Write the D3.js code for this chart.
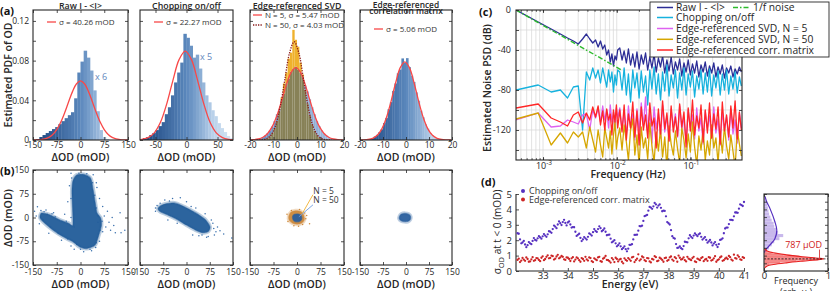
<!DOCTYPE html>
<html>
<head>
<meta charset="utf-8">
<title>Noise suppression figure</title>
<script src="https://d3js.org/d3.v7.min.js"></script>
<style>
 body { margin: 0; background: #fff; }
 svg { display: block; font-family: "Open Sans", "Noto Sans", sans-serif; }
 .lab { font-weight: 600; fill: #262626; }
 .ttl { font-weight: 600; fill: #262626; font-size: 8.8px; }
 .panel { font-weight: 700; font-size: 11px; fill: #111; }
 .leg { fill: #333; }
</style>
</head>
<body>
<svg width="830" height="291"></svg>
<script>
// ================= data =================
// (a) histograms: bin centres and PDF heights
const rawCenters = [-145,-135,-125,-115,-105,-95,-85,-75,-65,-55,-45,-35,-25,-15,-5,5,15,25,35,45,55,65,75,85,95,105,115,125,135,145];
const rawHist = [0,0.001,0.003,0.005,0.007,0.009,0.011,0.013,0.016,0.019,0.022,0.025,0.028,0.042,0.068,0.079,0.09,0.083,0.07,0.05,0.029,0.01,0.003,0.001,0,0,0,0,0,0];
const chopCenters = [-72.5,-67.5,-62.5,-57.5,-52.5,-47.5,-42.5,-37.5,-32.5,-27.5,-22.5,-17.5,-12.5,-7.5,-2.5,2.5,7.5,12.5,17.5,22.5,27.5,32.5,37.5,42.5,47.5,52.5,57.5,62.5,67.5,72.5];
const chopHist = [0.001,0.002,0.003,0.005,0.007,0.010,0.014,0.018,0.026,0.033,0.045,0.058,0.068,0.078,0.107,0.103,0.095,0.083,0.086,0.072,0.058,0.045,0.038,0.030,0.024,0.017,0.012,0.008,0.004,0.002];
const fineCenters = [-19.5,-18.5,-17.5,-16.5,-15.5,-14.5,-13.5,-12.5,-11.5,-10.5,-9.5,-8.5,-7.5,-6.5,-5.5,-4.5,-3.5,-2.5,-1.5,-0.5,0.5,1.5,2.5,3.5,4.5,5.5,6.5,7.5,8.5,9.5,10.5,11.5,12.5,13.5,14.5,15.5,16.5,17.5,18.5,19.5];
const svd5Hist = [0.0002,0.0003,0.0006,0.001,0.0018,0.0028,0.0045,0.0068,0.0095,0.0135,0.019,0.026,0.031,0.041,0.047,0.057,0.062,0.069,0.072,0.074,0.071,0.068,0.064,0.055,0.049,0.041,0.033,0.026,0.019,0.014,0.0098,0.0068,0.0044,0.0029,0.0018,0.0011,0.0006,0.0003,0.0002,0.0001];
const svd50Hist = [0,0,0,0.0001,0.0002,0.0004,0.0009,0.0019,0.0038,0.0069,0.012,0.019,0.029,0.043,0.057,0.068,0.082,0.088,0.111,0.101,0.094,0.078,0.066,0.051,0.037,0.025,0.016,0.0096,0.0055,0.0029,0.0015,0.0007,0.0003,0.0001,0,0,0,0,0,0];
const corrHist = [0.0001,0.0001,0.0003,0.0005,0.001,0.0019,0.0034,0.0052,0.0079,0.0108,0.017,0.0221,0.031,0.0382,0.0495,0.057,0.0672,0.071,0.0822,0.078,0.0825,0.0735,0.0648,0.0585,0.048,0.0396,0.0296,0.023,0.0158,0.0115,0.0071,0.0049,0.0027,0.0017,0.0009,0.0005,0.0002,0.0001,0.0001,0];

// (a) Gaussian fits
const rawFitX = [-150,-137.5,-125,-112.5,-100,-87.5,-75,-62.5,-50,-37.5,-25,-12.5,0,12.5,25,37.5,50,62.5,75,87.5,100,112.5,125,137.5,150];
const rawFitY = [0.00006,0.00017,0.00048,0.0012,0.0027,0.0056,0.0105,0.0178,0.0275,0.0385,0.049,0.0567,0.0595,0.0567,0.049,0.0385,0.0275,0.0178,0.0105,0.0056,0.0027,0.0012,0.00048,0.00017,0.00006];
const chopFitX = [-78,-72,-62,-52,-42,-32,-22,-12,-2,8,18,28,38,48,58,68,78];
const chopFitY = [0.0002,0.00065,0.0024,0.0072,0.0178,0.0362,0.0599,0.081,0.0896,0.081,0.0599,0.0362,0.0178,0.0072,0.0024,0.00065,0.0002];
const svd5FitX = [-20.5,-18.5,-16.5,-14.5,-12.5,-10.5,-8.5,-6.5,-4.5,-2.5,-0.5,1.5,3.5,5.5,7.5,9.5,11.5,13.5,15.5,17.5,19.5];
const svd5FitY = [0.00009,0.00032,0.00101,0.00276,0.0066,0.0137,0.025,0.04,0.0558,0.0682,0.0729,0.0682,0.0558,0.04,0.025,0.0137,0.0066,0.00276,0.00101,0.00032,0.00009];
const svd50FitX = [-17.2,-15.2,-13.2,-11.2,-9.2,-7.2,-5.2,-3.2,-1.2,0.8,2.8,4.8,6.8,8.8,10.8,12.8,14.8];
const svd50FitY = [0.00004,0.00024,0.00118,0.00455,0.0138,0.0327,0.0605,0.0875,0.099,0.0875,0.0605,0.0327,0.0138,0.00455,0.00118,0.00024,0.00004];
const corrFitX = [-20.5,-18.5,-16.5,-14.5,-12.5,-10.5,-8.5,-6.5,-4.5,-2.5,-0.5,1.5,3.5,5.5,7.5,9.5,11.5,13.5,15.5,17.5,19.5];
const corrFitY = [0.00003,0.00014,0.00053,0.00171,0.00473,0.0112,0.0226,0.039,0.0577,0.0729,0.0788,0.0729,0.0577,0.039,0.0226,0.0112,0.00473,0.00171,0.00053,0.00014,0.00003];

// (b) scatter clouds: dense outline + loose points [x, y] in mOD
const rawCloud = [[-123,14],[-96,8],[-65,-8],[-38,-18],[-24,-24],[-25,30],[-27,80],[-24,115],[-12,134],[10,136],[32,124],[40,87],[46,50],[52,15],[64,-2],[66,-25],[58,-55],[46,-87],[20,-98],[-2,-93],[-23,-77],[-54,-61],[-86,-40],[-117,-14],[-128,0]];
const rawLoose = [[-136,34],[-109,24],[-130,-20],[-140,5],[-100,-50],[-60,-72],[-30,-90],[10,-108],[35,-105],[60,-75],[70,-45],[80,-30],[95,-40],[110,-48],[128,-48],[125,15],[85,20],[70,35],[60,60],[50,110],[40,135],[-30,140],[-35,100],[-40,50],[-50,10],[-85,15],[75,5],[100,0],[55,-15],[-20,-100],[-115,18],[-90,12],[48,-95],[52,95],
  [-125,22],[-118,-8],[-105,10],[-95,-30],[-80,2],[-70,-50],[-45,-12],[-40,-68],[-12,-85],[0,-100],[30,-100],[50,-80],[62,-40],[68,-12],[55,5],[50,30],[45,70],[38,110],[20,138],[-5,140],[-28,125],[-30,60],[-30,0],[-20,-30],[90,-15],[105,-25],[140,-40],[-145,20]];
const chopCloud = [[-92,28],[-82,38],[-62,44],[-40,46],[-16,38],[10,25],[40,8],[62,-8],[76,-30],[70,-44],[52,-48],[30,-40],[0,-24],[-30,-6],[-60,8],[-84,18]];
const chopLoose = [[-20,62],[-45,60],[-95,38],[-70,55],[60,12],[85,-18],[95,-45],[108,-42],[146,-65],[70,-60],[40,-58],[80,-8],[-60,-8],[20,-55],[100,-30],[120,-52],[-100,20],[0,50],[30,30],[90,-55],[65,-62],[-30,-18],[-85,45],[-55,52],[15,35],[50,-55],[88,-35],[-100,30]];
const svd5Cloud = [[-26,4],[-20,16],[-5,21],[12,19],[21,8],[23,-8],[14,-18],[0,-21],[-15,-17],[-25,-8]];
const svd5Loose = [[-32,10],[28,-4],[-10,-26],[18,-22],[31,6],[-29,-13],[8,25],[-18,22],[25,14],[5,-28],[40,-20]];
const svd50Cloud = [[-14,4],[-8,10],[5,11],[14,5],[15,-6],[7,-13],[-6,-13],[-13,-6]];
const corrCloud = [[-21,4],[-15,11],[-3,13],[9,10],[15,3],[14,-6],[7,-12],[-5,-13],[-16,-10],[-22,-4]];

// (c) noise PSD (dB) at each frequency (Hz)
const psdFreq = [0.00043,0.00086,0.00129,0.00172,0.00215,0.00258,0.00301,0.00344,0.00387,0.0043,0.00473,0.00516,0.00559,0.00602,0.00645,0.00688,0.00731,0.00774,0.00817,0.0086,0.00903,0.00946,0.00989,0.0103,
  0.011,0.0118,0.0126,0.0135,0.0144,0.0154,0.0165,0.0176,0.0188,0.0201,0.0215,0.023,0.0246,0.0263,0.0281,0.03,0.0321,0.0343,0.0367,0.0392,0.0419,0.0448,0.0479,0.0512,0.0547,0.0585,0.0625,0.0668,0.0714,0.0763,0.0816,0.0872,0.0932,0.0996,0.1065,0.1138,0.1216,0.13,0.139,0.1485,0.1587,0.1697,0.1813,0.1938,0.2072,0.2214,0.2367,0.253,0.2704,0.289,0.3089,0.3302,0.3529,0.3772,0.4032,0.431,0.4607,0.49];
const psdRaw = [0,-12,-19,-24,-28,-31,-34,-29,-24,-29,-33,-30,-37,-31,-39,-35,-45,-40,-52,-44,-56,-46,-50,-40,
  -38,-50,-41,-53,-39,-55,-44,-57,-42,-59,-45,-54,-43,-60,-47,-58,-44,-62,-48,-57,-46,-63,-50,-61,-47,-64,-52,-60,-49,-66,-53,-62,-50,-65,-54,-63,-51,-67,-55,-62,-52,-66,-56,-63,-53,-67,-57,-64,-55,-68,-58,-63,-56,-67,-59,-64,-57,-62];
const psdChop = [-80,-75,-82,-80,-88,-77,-76,-120,-62,-70,-58,-68,-60,-73,-58,-68,-77,-60,-72,-62,-82,-65,-75,-60,
  -62,-80,-58,-85,-64,-92,-60,-78,-63,-88,-61,-82,-66,-95,-60,-79,-57,-84,-64,-90,-62,-81,-55,-86,-65,-78,-60,-88,-63,-80,-58,-85,-64,-77,-61,-87,-66,-79,-60,-84,-63,-82,-59,-86,-65,-78,-61,-85,-64,-80,-60,-84,-66,-79,-62,-83,-67,-76];
const psdSvd5 = [-110,-103,-117,-116,-110,-112,-114,-105,-104,-120,-100,-108,-98,-112,-96,-110,-100,-118,-95,-112,-102,-120,-98,-108,
  -98,-120,-102,-126,-96,-118,-104,-130,-99,-121,-93,-116,-87,-124,-101,-133,-97,-119,-103,-128,-95,-122,-106,-131,-99,-117,-104,-127,-96,-120,-107,-132,-100,-118,-105,-129,-98,-121,-108,-134,-101,-119,-106,-128,-97,-123,-109,-135,-102,-120,-107,-130,-99,-124,-110,-133,-103,-118];
const psdSvd50 = [-109,-103,-135,-123,-133,-122,-127,-122,-138,-117,-130,-142,-120,-135,-147,-118,-128,-138,-121,-144,-125,-112,-139,-128,
  -118,-140,-115,-132,-150,-120,-109,-145,-125,-155,-117,-138,-128,-149,-113,-136,-152,-122,-141,-119,-147,-127,-158,-116,-134,-145,-121,-139,-153,-118,-130,-148,-124,-142,-112,-137,-155,-126,-140,-119,-150,-131,-145,-115,-138,-128,-153,-122,-143,-117,-136,-149,-125,-141,-158,-120,-134,-146];
const psdCorr = [-98,-94,-108,-112,-116,-105,-102,-113,-103,-110,-97,-107,-96,-115,-101,-120,-99,-110,-104,-125,-100,-112,-95,-118,
  -100,-122,-95,-130,-104,-118,-92,-127,-101,-135,-97,-120,-105,-128,-93,-116,-108,-138,-99,-124,-91,-119,-103,-131,-96,-122,-107,-126,-94,-117,-102,-137,-98,-121,-90,-125,-106,-118,-95,-132,-100,-123,-93,-128,-104,-119,-97,-134,-92,-121,-105,-127,-96,-118,-91,-129,-102,-120];
const oneOverFFreq = [0.00043, 0.0116];
const oneOverFdB = [0, -60];

// (d) noise floor vs photon energy
const energy = [32.0,32.1,32.2,32.3,32.4,32.5,32.6,32.7,32.8,32.9,33.0,33.1,33.2,33.3,33.4,33.5,33.6,33.7,33.8,33.9,34.0,34.1,34.2,34.3,34.4,34.5,34.6,34.7,34.8,34.9,35.0,35.1,35.2,35.3,35.4,35.5,35.6,35.7,35.8,35.9,36.0,36.1,36.2,36.3,36.4,36.5,36.6,36.7,36.8,36.9,37.0,37.1,37.2,37.3,37.4,37.5,37.6,37.7,37.8,37.9,38.0,38.1,38.2,38.3,38.4,38.5,38.6,38.7,38.8,38.9,39.0,39.1,39.2,39.3,39.4,39.5,39.6,39.7,39.8,39.9,40.0,40.1,40.2,40.3,40.4,40.5,40.6,40.7,40.8,40.9,41.0];
const sigmaChop = [2.45,2.05,1.85,1.72,1.68,1.80,1.95,2.02,2.12,2.18,2.25,2.30,2.38,2.55,2.72,2.88,3.02,3.10,3.18,3.12,3.15,3.02,2.85,2.55,2.35,2.15,2.05,2.12,2.22,2.38,2.52,2.60,2.72,2.78,2.65,2.55,2.35,2.10,1.92,1.80,1.68,1.60,1.50,1.42,1.45,1.70,2.05,2.35,2.62,2.90,3.25,3.60,3.92,4.12,4.20,4.32,4.25,4.10,3.92,3.55,3.10,2.65,2.15,1.75,1.52,1.48,1.62,1.88,2.12,2.22,2.30,2.35,2.38,2.22,2.12,2.02,1.92,1.85,1.78,1.70,1.75,2.05,2.45,2.82,3.05,3.32,3.55,3.80,4.05,4.28,4.48];
const sigmaCorr = [0.72,0.58,0.85,0.66,0.78,0.62,0.90,0.70,0.82,0.64,0.95,0.78,1.02,0.85,0.96,0.80,1.05,0.88,0.92,0.72,0.86,0.65,0.90,0.74,0.82,0.60,0.78,0.92,0.68,0.84,0.58,0.76,0.88,0.64,0.80,0.98,0.70,0.55,0.74,0.86,0.62,0.78,0.50,0.72,0.84,0.66,0.92,0.70,1.08,0.76,0.88,0.64,0.82,0.56,0.74,0.90,0.68,0.80,0.60,0.86,0.72,0.94,0.66,0.82,1.00,0.74,0.88,0.62,0.80,0.70,0.92,0.58,0.76,0.84,0.64,0.78,0.90,0.68,0.82,0.60,0.76,0.94,0.70,0.86,0.98,0.74,1.06,0.80,0.92,0.72,0.85];
// interleaved points half-way between the ones above
const energyMid = [32.05,32.15,32.25,32.35,32.45,32.55,32.65,32.75,32.85,32.95,33.05,33.15,33.25,33.35,33.45,33.55,33.65,33.75,33.85,33.95,34.05,34.15,34.25,34.35,34.45,34.55,34.65,34.75,34.85,34.95,35.05,35.15,35.25,35.35,35.45,35.55,35.65,35.75,35.85,35.95,36.05,36.15,36.25,36.35,36.45,36.55,36.65,36.75,36.85,36.95,37.05,37.15,37.25,37.35,37.45,37.55,37.65,37.75,37.85,37.95,38.05,38.15,38.25,38.35,38.45,38.55,38.65,38.75,38.85,38.95,39.05,39.15,39.25,39.35,39.45,39.55,39.65,39.75,39.85,39.95,40.05,40.15,40.25,40.35,40.45,40.55,40.65,40.75,40.85,40.95];
const sigmaChopMid = [2.42,1.80,1.95,1.55,1.88,1.74,2.14,1.98,2.26,2.10,2.40,2.22,2.58,2.48,2.95,2.78,3.22,2.98,3.32,2.96,3.22,2.82,2.84,2.28,2.42,1.94,2.20,2.04,2.44,2.30,2.72,2.54,2.90,2.58,2.76,2.32,2.36,1.86,2.00,1.60,1.80,1.42,1.60,1.28,1.70,1.74,2.34,2.36,2.92,2.94,3.56,3.64,4.16,4.04,4.42,4.12,4.32,3.88,3.90,3.18,3.02,2.26,2.10,1.50,1.60,1.42,1.90,1.86,2.32,2.14,2.44,2.26,2.44,2.04,2.20,1.84,2.02,1.66,1.88,1.56,2.02,2.12,2.76,2.82,3.32,3.30,3.80,3.78,4.32,4.22];
const sigmaCorrMid = [0.80,0.68,0.74,0.88,0.60,0.76,0.66,0.84,0.72,0.86,0.70,0.92,0.82,1.00,0.74,0.94,0.82,0.98,0.76,0.88,0.78,0.82,0.62,0.88,0.70,0.84,0.66,0.76,0.88,0.64,0.82,0.70,0.92,0.60,0.86,0.72,0.64,0.84,0.58,0.78,0.74,0.60,0.82,0.66,0.76,0.88,0.58,0.80,0.68,0.94,0.70,0.84,0.62,0.78,0.96,0.64,0.86,0.72,0.84,0.66,0.88,0.74,0.90,0.60,0.86,0.78,0.70,0.92,0.76,0.84,0.62,0.80,0.70,0.90,0.74,0.66,0.86,0.72,0.96,0.70,0.88,0.66,0.80,0.78,0.90,0.68,0.84,1.02,0.76,0.90];
// side histograms of those sigmas
const chopBinC = [1.3,1.5,1.7,1.9,2.1,2.3,2.5,2.7,2.9,3.1,3.3,3.5,3.7,3.9,4.1,4.3,4.5,4.7];
const chopBinF = [0.03,0.08,0.12,0.16,0.24,0.30,0.22,0.19,0.16,0.15,0.12,0.10,0.08,0.07,0.06,0.05,0.03,0.02];
const corrBinC = [0.35,0.45,0.55,0.65,0.75,0.85,0.95,1.05,1.15,1.25,1.35];
const corrBinF = [0.02,0.08,0.25,0.5,0.85,0.8,0.55,0.3,0.12,0.05,0.02];
const chopFitF = [0.005,0.016,0.042,0.094,0.17,0.2,0.17,0.094,0.042,0.016];
const chopFitS = [1.2,1.3,1.45,1.7,2.1,2.65,3.2,4.05,4.5,4.85];
const corrFitF = [0.01,0.05,0.15,0.35,0.6,0.85,0.93,0.85,0.6,0.35,0.15,0.05,0.01];
const corrFitS = [1.45,1.3,1.18,1.05,0.93,0.83,0.787,0.74,0.64,0.53,0.42,0.33,0.2];
const corrMean = 0.787;

// ================= drawing =================
const svg = d3.select("svg");
const ink = "#262626";
const red = "#f84848";

function styleAxis(s, fs) {
  s.select(".domain").remove();
  s.attr("font-family", null).attr("font-size", null);
  s.selectAll(".tick line").attr("stroke", ink).attr("stroke-width", 0.8);
  s.selectAll(".tick text").attr("fill", ink).style("font-size", fs + "px");
}
const blank = () => "";

// boxed axes with inward ticks on all four sides
function boxAxes(g, x, y, o) {
  const [yb, yt] = y.range();
  const [xl, xr] = x.range();
  const xf = o.xLab ? (o.xFmt || (d => String(d))) : blank;
  const yf = o.yFmt || blank;
  g.append("g").attr("transform", `translate(0,${yb})`)
    .call(d3.axisBottom(x).tickValues(o.xt).tickSize(-3).tickSizeOuter(0).tickPadding(o.xPad || 2).tickFormat(xf))
    .call(s => styleAxis(s, o.fs));
  g.append("g").attr("transform", `translate(0,${yt})`)
    .call(d3.axisTop(x).tickValues(o.xt).tickSize(-3).tickSizeOuter(0).tickFormat(blank))
    .call(s => styleAxis(s, o.fs));
  g.append("g").attr("transform", `translate(${xl},0)`)
    .call(d3.axisLeft(y).tickValues(o.yt).tickSize(-3).tickSizeOuter(0).tickPadding(o.yPad || 4).tickFormat(yf))
    .call(s => styleAxis(s, o.fs));
  g.append("g").attr("transform", `translate(${xr},0)`)
    .call(d3.axisRight(y).tickValues(o.yt).tickSize(-3).tickSizeOuter(0).tickFormat(blank))
    .call(s => styleAxis(s, o.fs));
  g.append("rect").attr("x", xl).attr("y", yt).attr("width", xr - xl).attr("height", yb - yt)
    .attr("fill", "none").attr("stroke", ink).attr("stroke-width", 1.1);
}

function clipFor(id, x, y) {
  svg.append("clipPath").attr("id", id).append("rect")
    .attr("x", x.range()[0]).attr("y", y.range()[1])
    .attr("width", x.range()[1] - x.range()[0]).attr("height", y.range()[0] - y.range()[1]);
  return `url(#${id})`;
}

// ---------- (a) ----------
const cols = [[33, 128], [140, 233], [250, 344], [360, 452]];
const yA = d3.scaleLinear().domain([0, 0.131]).range([140, 10]);
const blueRamp = d3.scaleLinear().domain([0, 0.5, 0.78, 1])
  .range(["#163f79", "#5a87bc", "#b9d1ea", "#d9e8f5"]).interpolate(d3.interpolateRgb);
const paleRamp = d3.scaleLinear().domain([0, 1]).range(["#5f84bb", "#a8c2e2"]);

const histDefs = [
  {dom: [-150, 150], xt: [-150, -75, 0, 75, 150], c: rawCenters, v: rawHist, w: 10, fx: rawFitX, fy: rawFitY,
   title: ["Raw I - <I>"], leg: "σ = 40.26 mOD"},
  {dom: [-75, 75], xt: [-50, 0, 50], c: chopCenters, v: chopHist, w: 5, fx: chopFitX, fy: chopFitY,
   title: ["Chopping on/off"], leg: "σ = 22.27 mOD"},
  {dom: [-20, 20], xt: [-20, -10, 0, 10, 20], c: fineCenters, v: svd5Hist, w: 1, fx: svd5FitX, fy: svd5FitY,
   title: ["Edge-referenced SVD"]},
  {dom: [-20, 20], xt: [-20, -10, 0, 10, 20], c: fineCenters, v: corrHist, w: 1, fx: corrFitX, fy: corrFitY,
   title: ["Edge-referenced", "correlation matrix"], leg: "σ = 5.06 mOD"}
];
const yTicksA = [0, 0.02, 0.04, 0.06, 0.08, 0.1, 0.12];

histDefs.forEach((h, i) => {
  const g = svg.append("g");
  const x = d3.scaleLinear().domain(h.dom).range(cols[i]);
  const clip = clipFor("clipA" + i, x, yA);
  const bars = g.append("g").attr("clip-path", clip);
  const t = c => (c - h.dom[0]) / (h.dom[1] - h.dom[0]);
  if (i === 2) {
    h.c.forEach((c, k) => {
      const b = svd5Hist[k], o = svd50Hist[k], lo = Math.min(b, o);
      const x0 = x(c - h.w / 2), wd = x(c + h.w / 2) - x0;
      bars.append("rect").attr("x", x0).attr("width", wd).attr("y", yA(lo)).attr("height", yA(0) - yA(lo)).attr("fill", "#878157");
      if (b > o) bars.append("rect").attr("x", x0).attr("width", wd).attr("y", yA(b)).attr("height", yA(o) - yA(b)).attr("fill", paleRamp(t(c)));
      else if (o > b) bars.append("rect").attr("x", x0).attr("width", wd).attr("y", yA(o)).attr("height", yA(b) - yA(o)).attr("fill", "#efb12c");
    });
  } else {
    bars.selectAll("rect").data(h.c).join("rect")
      .attr("x", c => x(c - h.w / 2)).attr("width", c => x(c + h.w / 2) - x(c - h.w / 2) + 0.3)
      .attr("y", (c, k) => yA(h.v[k])).attr("height", (c, k) => yA(0) - yA(h.v[k]))
      .attr("fill", c => blueRamp(t(c)));
  }
  const line = d3.line().x(d => x(d[0])).y(d => yA(d[1])).curve(d3.curveCatmullRom);
  bars.append("path").datum(d3.zip(h.fx, h.fy)).attr("d", line)
    .attr("fill", "none").attr("stroke", red).attr("stroke-width", 1.3);
  if (i === 2) {
    bars.append("path").datum(d3.zip(svd50FitX, svd50FitY)).attr("d", line)
      .attr("fill", "none").attr("stroke", "#8b1a1a").attr("stroke-width", 1.3).attr("stroke-dasharray", "1.3,1.2");
  }
  boxAxes(g, x, yA, {xt: h.xt, yt: yTicksA, xLab: true, fs: 8.5, xPad: 2,
    yFmt: i === 0 ? (d => [0, 0.04, 0.08, 0.12].includes(d) ? (d === 0 ? "0" : d.toFixed(2)) : "") : null});

  const cx = (cols[i][0] + cols[i][1]) / 2;
  if (h.title.length === 1) {
    g.append("text").attr("class", "ttl").attr("x", cx).attr("y", 9.2).attr("text-anchor", "middle").text(h.title[0]);
  } else {
    g.append("text").attr("class", "ttl").attr("x", cx).attr("y", 7.6).attr("text-anchor", "middle").style("font-size", "8.4px").text(h.title[0]);
    g.append("text").attr("class", "ttl").attr("x", cx).attr("y", 14.4).attr("text-anchor", "middle").style("font-size", "8.4px").text(h.title[1]);
  }
  g.append("text").attr("class", "lab").attr("x", cx).attr("y", 160.5).attr("text-anchor", "middle")
    .style("font-size", "10.5px").text("ΔOD (mOD)");

  // legends
  const lx = cols[i][0] + 14;
  if (i === 2) {
    g.append("line").attr("x1", lx - 11).attr("x2", lx - 2).attr("y1", 15).attr("y2", 15).attr("stroke", red).attr("stroke-width", 1.3);
    g.append("text").attr("class", "leg").attr("x", lx + 1).attr("y", 17.8).style("font-size", "8px").text("N = 5, σ = 5.47 mOD");
    g.append("line").attr("x1", lx - 11).attr("x2", lx - 2).attr("y1", 25).attr("y2", 25).attr("stroke", "#8b1a1a").attr("stroke-width", 1.3).attr("stroke-dasharray", "1.3,1.2");
    g.append("text").attr("class", "leg").attr("x", lx + 1).attr("y", 27.8).style("font-size", "8px").text("N = 50, σ = 4.03 mOD");
  } else {
    const ly = i === 3 ? 29 : 22;
    g.append("line").attr("x1", lx).attr("x2", lx + 9).attr("y1", ly).attr("y2", ly).attr("stroke", red).attr("stroke-width", 1.3);
    g.append("text").attr("class", "leg").attr("x", lx + 12).attr("y", ly + 2.8).style("font-size", "8px").text(h.leg);
  }
});
svg.append("text").attr("x", 95).attr("y", 80).attr("fill", "#6286bd").style("font-size", "9px").text("x 6");
svg.append("text").attr("x", 200).attr("y", 60).attr("fill", "#6286bd").style("font-size", "9px").text("x 5");
svg.append("text").attr("class", "lab").attr("transform", "translate(12,75) rotate(-90)")
  .attr("text-anchor", "middle").style("font-size", "10.5px").text("Estimated PDF of OD");
svg.append("text").attr("class", "panel").attr("x", 0).attr("y", 15).text("(a)");

// ---------- (b) ----------
const yB = d3.scaleLinear().domain([-150, 150]).range([265, 170]);
const scatDefs = [
  {clouds: [[rawCloud, "#215c99"]], loose: [[rawLoose, "#3a70ad"]]},
  {clouds: [[chopCloud, "#215c99"]], loose: [[chopLoose, "#3a70ad"]]},
  {clouds: [[svd5Cloud, "#cf8a3c"], [svd50Cloud, "#2a5f9e"]], loose: [[svd5Loose, "#cf8a3c"]]},
  {clouds: [[corrCloud, "#2a5f9e"]], loose: []}
];
const bTicks = [-150, -75, 0, 75, 150];
scatDefs.forEach((s, i) => {
  const g = svg.append("g");
  const x = d3.scaleLinear().domain([-150, 150]).range(cols[i]);
  const blob = d3.line().x(d => x(d[0])).y(d => yB(d[1])).curve(d3.curveCardinalClosed.tension(0.3));
  s.clouds.forEach(([pts, col]) => {
    // soft, speckled rim around the dense core
    g.append("path").datum(pts).attr("d", blob).attr("fill", "none")
      .attr("stroke", col).attr("stroke-opacity", 0.3).attr("stroke-width", 4);
  });
  s.loose.forEach(([pts, col]) => {
    g.append("g").selectAll("circle").data(pts).join("circle")
      .attr("cx", d => x(d[0])).attr("cy", d => yB(d[1])).attr("r", 0.75).attr("fill", col);
  });
  s.clouds.forEach(([pts, col]) => {
    g.append("path").datum(pts).attr("d", blob).attr("fill", col).attr("fill-opacity", 0.95)
      .attr("stroke", col).attr("stroke-opacity", 0.5).attr("stroke-width", 1.2);
  });
  boxAxes(g, x, yB, {xt: bTicks, yt: bTicks, xLab: true, fs: 8.5, xPad: 4,
    yFmt: i === 0 ? (d => String(d)) : null});
  g.append("text").attr("class", "lab").attr("x", (cols[i][0] + cols[i][1]) / 2).attr("y", 288)
    .attr("text-anchor", "middle").style("font-size", "10.5px").text("ΔOD (mOD)");
  if (i === 2) {
    g.append("line").attr("x1", x(51)).attr("y1", yB(72)).attr("x2", x(16)).attr("y2", yB(11)).attr("stroke", "#f0b030").attr("stroke-width", 0.9);
    g.append("line").attr("x1", x(51)).attr("y1", yB(40)).attr("x2", x(6)).attr("y2", yB(2)).attr("stroke", "#6f9de0").attr("stroke-width", 0.9);
    g.append("text").attr("class", "leg").attr("x", x(52)).attr("y", yB(74)).style("font-size", "8.5px").text("N = 5");
    g.append("text").attr("class", "leg").attr("x", x(52)).attr("y", yB(45)).style("font-size", "8.5px").text("N = 50");
  }
});
svg.append("text").attr("class", "lab").attr("transform", "translate(12,218) rotate(-90)")
  .attr("text-anchor", "middle").style("font-size", "10.5px").text("ΔOD (mOD)");
svg.append("text").attr("class", "panel").attr("x", 0).attr("y", 175).text("(b)");

// ---------- (c) ----------
const xC = d3.scaleLog().domain([0.00043, 0.5]).range([516, 742]);
const yC = d3.scaleLinear().domain([-150, 0]).range([160, 10]);
const gC = svg.append("g");
const minorF = [];
[-4, -3, -2, -1].forEach(e => d3.range(1, 10).forEach(m => {
  const f = m * Math.pow(10, e);
  if (f > 0.00043 && f < 0.5) minorF.push(f);
}));
gC.append("g").selectAll("line").data(minorF).join("line")
  .attr("x1", d => xC(d)).attr("x2", d => xC(d)).attr("y1", 10).attr("y2", 160)
  .attr("stroke", "#d6d6d6").attr("stroke-width", 0.7);
const dbGrid = [-140, -120, -100, -80, -60, -40, -20];
gC.append("g").selectAll("line").data(dbGrid).join("line")
  .attr("x1", 516).attr("x2", 742).attr("y1", d => yC(d)).attr("y2", d => yC(d))
  .attr("stroke", "#d6d6d6").attr("stroke-width", 0.7);

const clipC = clipFor("clipC", xC, yC);
const psdSeries = [
  {v: psdRaw, col: "#2c2d96"},
  {v: psdChop, col: "#16b2de"},
  {v: psdSvd5, col: "#de62f0"},
  {v: psdSvd50, col: "#d6a600"},
  {v: psdCorr, col: "#ff2626"}
];
const psdLine = d3.line().x(d => xC(d[0])).y(d => yC(d[1]));
const linesC = gC.append("g").attr("clip-path", clipC);
psdSeries.forEach(s => {
  linesC.append("path").datum(d3.zip(psdFreq, s.v)).attr("d", psdLine)
    .attr("fill", "none").attr("stroke", s.col).attr("stroke-width", 1.3).attr("stroke-linejoin", "round");
});
linesC.append("path").datum(d3.zip(oneOverFFreq, oneOverFdB)).attr("d", psdLine)
  .attr("fill", "none").attr("stroke", "#2cba2c").attr("stroke-width", 1.4).attr("stroke-dasharray", "5,2,1.5,2");

boxAxes(gC, xC, yC, {xt: [0.001, 0.01, 0.1], yt: [-140, -120, -100, -80, -60, -40, -20, 0], xLab: false, fs: 9, yPad: 5,
  yFmt: d => d % 40 === 0 ? String(d) : ""});
gC.append("g").attr("transform", "translate(0,160)")
  .call(d3.axisBottom(xC).tickValues(minorF).tickSize(-1.8).tickFormat(blank)).call(s => styleAxis(s, 9));
gC.append("g").attr("transform", "translate(0,10)")
  .call(d3.axisTop(xC).tickValues(minorF).tickSize(-1.8).tickFormat(blank)).call(s => styleAxis(s, 9));
[[0.001, "-3"], [0.01, "-2"], [0.1, "-1"]].forEach(([v, e]) => {
  const t = gC.append("text").attr("x", xC(v) + 1).attr("y", 169).attr("text-anchor", "middle")
    .attr("fill", ink).style("font-size", "9px");
  t.append("tspan").text("10");
  t.append("tspan").attr("dy", -4).style("font-size", "6.5px").text(e);
});
gC.append("text").attr("class", "lab").attr("x", 628).attr("y", 178).attr("text-anchor", "middle")
  .style("font-size", "10.5px").text("Frequency (Hz)");
gC.append("text").attr("class", "lab").attr("transform", "translate(491,88) rotate(-90)")
  .attr("text-anchor", "middle").style("font-size", "10.5px").text("Estimated Noise PSD (dB)");
svg.append("text").attr("class", "panel").attr("x", 479).attr("y", 16).text("(c)");

// legend
const lg = svg.append("g");
lg.append("rect").attr("x", 650).attr("y", 2).attr("width", 179).attr("height", 55)
  .attr("fill", "#fff").attr("stroke", ink).attr("stroke-width", 0.9);
const legRows = [
  ["Raw I - <I>", "#2c2d96", 7.5],
  ["Chopping on/off", "#16b2de", 17.5],
  ["Edge-referenced SVD, N = 5", "#de62f0", 28.5],
  ["Edge-referenced SVD, N = 50", "#d6a600", 39.3],
  ["Edge-referenced corr. matrix", "#ff2626", 50]
];
legRows.forEach(([txt, col, y]) => {
  lg.append("line").attr("x1", 657).attr("x2", 673).attr("y1", y).attr("y2", y).attr("stroke", col).attr("stroke-width", 1.5);
  lg.append("text").attr("x", 676).attr("y", y + 3.6).attr("fill", ink).style("font-size", "10.3px").text(txt);
});
lg.append("line").attr("x1", 733).attr("x2", 750).attr("y1", 7.5).attr("y2", 7.5).attr("stroke", "#2cba2c")
  .attr("stroke-width", 1.5).attr("stroke-dasharray", "5,2,1.5,2");
lg.append("text").attr("x", 753).attr("y", 11.1).attr("fill", ink).style("font-size", "10.3px").text("1/f noise");

// ---------- (d) ----------
const xD = d3.scaleLinear().domain([31.94, 41.04]).range([516, 745]);
const yD = d3.scaleLinear().domain([0, 5]).range([271, 194]);
const gD = svg.append("g");
gD.append("g").attr("transform", "translate(0,271)")
  .call(d3.axisBottom(xD).tickValues([33, 34, 35, 36, 37, 38, 39, 40, 41]).tickSize(-3).tickSizeOuter(0).tickPadding(1).tickFormat(d => String(d)))
  .call(s => styleAxis(s, 9.5));
gD.append("g").attr("transform", "translate(516,0)")
  .call(d3.axisLeft(yD).tickValues([0, 1, 2, 3, 4, 5]).tickSize(-3).tickSizeOuter(0).tickPadding(4).tickFormat(d => String(d)))
  .call(s => styleAxis(s, 9.5));
gD.append("line").attr("x1", 516).attr("x2", 516).attr("y1", 194).attr("y2", 271).attr("stroke", ink).attr("stroke-width", 1.1);
gD.append("line").attr("x1", 516).attr("x2", 745).attr("y1", 271).attr("y2", 271).attr("stroke", ink).attr("stroke-width", 1.1);
const dotSets = [
  [energy, sigmaCorr, "#cc2424"], [energyMid, sigmaCorrMid, "#cc2424"],
  [energy, sigmaChop, "#5630c0"], [energyMid, sigmaChopMid, "#5630c0"]
];
dotSets.forEach(([e, s, col]) => {
  gD.append("g").selectAll("circle").data(d3.zip(e, s)).join("circle")
    .attr("cx", d => xD(d[0])).attr("cy", d => yD(d[1])).attr("r", 1.15).attr("fill", col);
});
gD.append("circle").attr("cx", 523).attr("cy", 191).attr("r", 2).attr("fill", "#5630c0");
gD.append("text").attr("class", "leg").attr("x", 529).attr("y", 194.2).style("font-size", "9px").text("Chopping on/off");
gD.append("circle").attr("cx", 523).attr("cy", 199.5).attr("r", 2).attr("fill", "#cc2424");
gD.append("text").attr("class", "leg").attr("x", 529).attr("y", 202.7).style("font-size", "9px").text("Edge-referenced corr. matrix");
gD.append("text").attr("class", "lab").attr("x", 630).attr("y", 287.5).attr("text-anchor", "middle")
  .style("font-size", "10.5px").text("Energy (eV)");
const yl = gD.append("text").attr("transform", "translate(501,232) rotate(-90)").attr("text-anchor", "middle")
  .attr("fill", ink).style("font-size", "10px");
yl.append("tspan").text("σ");
yl.append("tspan").attr("dy", 2.5).style("font-size", "7.5px").text("OD");
yl.append("tspan").attr("dy", -2.5).text(" at t < 0 (mOD)");
svg.append("text").attr("class", "panel").attr("x", 481).attr("y", 186).text("(d)");

// side histogram
const xS = d3.scaleLinear().domain([0, 1]).range([764, 828]);
const gS = svg.append("g");
const clipS = clipFor("clipS", xS, yD);
const sideBars = gS.append("g").attr("clip-path", clipS);
sideBars.selectAll(".pb").data(chopBinC).join("rect").attr("class", "pb")
  .attr("x", xS(0)).attr("width", (c, k) => xS(chopBinF[k]) - xS(0))
  .attr("y", c => yD(c + 0.1)).attr("height", c => yD(c - 0.1) - yD(c + 0.1)).attr("fill", "#c8b8ec");
sideBars.selectAll(".rb").data(corrBinC).join("rect").attr("class", "rb")
  .attr("x", xS(0)).attr("width", (c, k) => xS(corrBinF[k]) - xS(0))
  .attr("y", c => yD(c + 0.05)).attr("height", c => yD(c - 0.05) - yD(c + 0.05)).attr("fill", "#f6a0a0");
const sideLine = d3.line().x(d => xS(d[0])).y(d => yD(d[1])).curve(d3.curveCatmullRom);
sideBars.append("path").datum(d3.zip(chopFitF, chopFitS)).attr("d", sideLine)
  .attr("fill", "none").attr("stroke", "#5630c0").attr("stroke-width", 1.2);
sideBars.append("path").datum(d3.zip(corrFitF, corrFitS)).attr("d", sideLine)
  .attr("fill", "#f04040").attr("fill-opacity", 0.35).attr("stroke", "#e82020").attr("stroke-width", 1.1);
sideBars.append("line").attr("x1", xS(0)).attr("x2", xS(1)).attr("y1", yD(corrMean)).attr("y2", yD(corrMean))
  .attr("stroke", "#111").attr("stroke-width", 0.8).attr("stroke-dasharray", "2,1.5");
boxAxes(gS, xS, yD, {xt: [0, 1], yt: [0, 0.5, 1, 1.5, 2, 2.5, 3, 3.5, 4, 4.5, 5], xLab: true, fs: 9.5, xPad: 1});
gS.append("line").attr("x1", 819.5).attr("x2", 819.5).attr("y1", 249.5).attr("y2", yD(corrMean) - 1)
  .attr("stroke", "#d02020").attr("stroke-width", 0.8);
gS.append("text").attr("x", 822).attr("y", 248).attr("text-anchor", "end").attr("fill", "#d02020")
  .style("font-size", "9px").text("787 µOD");
gS.append("text").attr("x", 796).attr("y", 284).attr("text-anchor", "middle").attr("fill", ink)
  .style("font-size", "9px").text("Frequency");
gS.append("text").attr("x", 796).attr("y", 295).attr("text-anchor", "middle").attr("fill", ink)
  .style("font-size", "9px").text("(arb. u.)");
</script>
</body>
</html>
